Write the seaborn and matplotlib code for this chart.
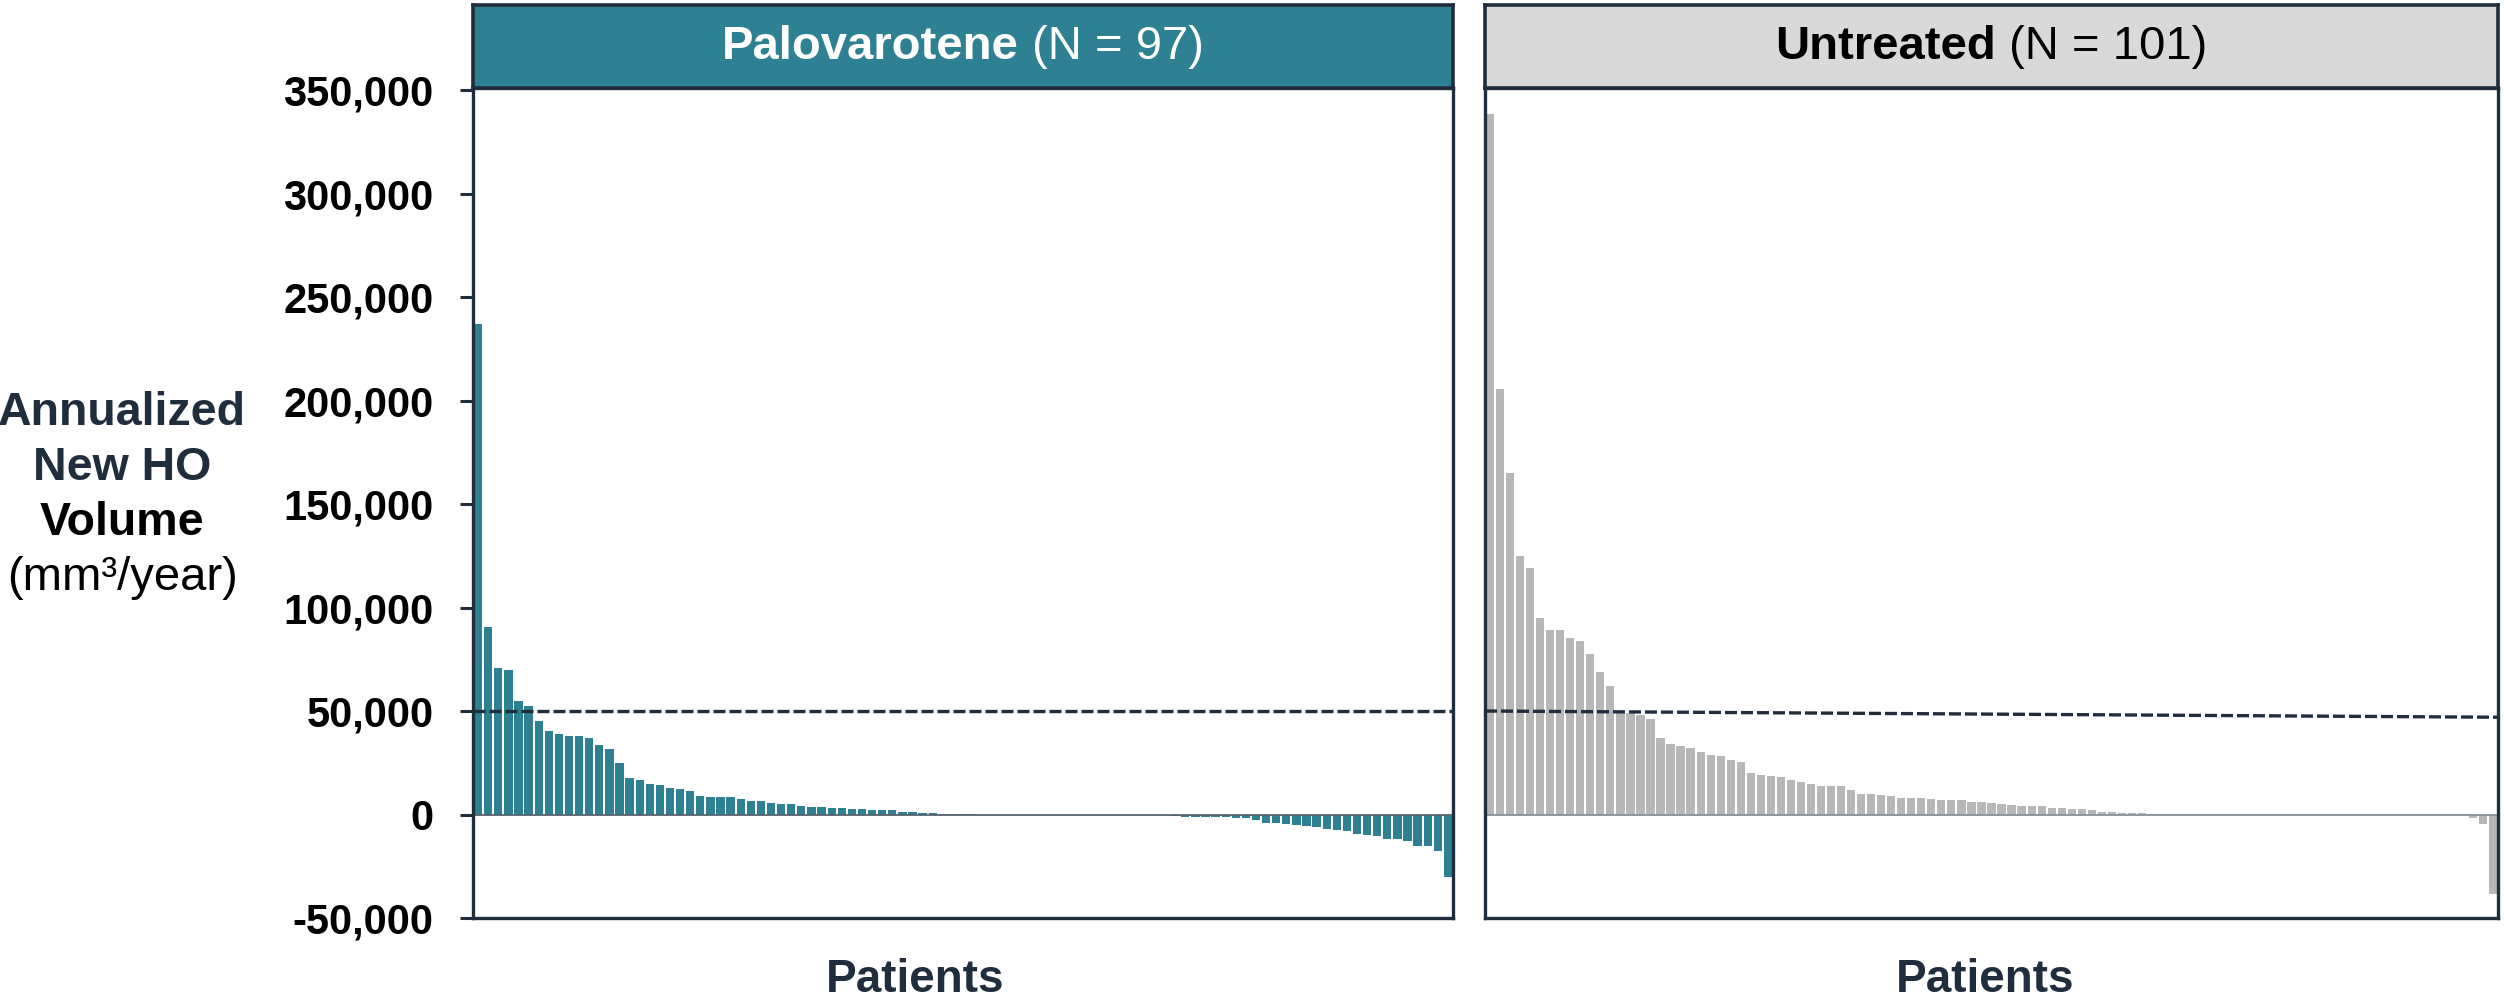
import matplotlib
matplotlib.use("Agg")
import matplotlib.pyplot as plt
import pandas as pd
import seaborn as sns

# Annualized new HO volume per patient (mm^3/year), sorted high to low
palovarotene = [
    237000, 90400, 70700, 69900, 55000, 52300, 45100, 40500, 38900, 38000,
    37800, 37200, 33500, 31800, 25100, 17500, 16700, 14800, 14300, 12700,
    12100, 11300, 8900, 8600, 8600, 8600, 7600, 6700, 6500, 5700,
    4900, 4900, 4300, 3800, 3800, 3200, 3000, 2700, 2700, 2400,
    2300, 2200, 1400, 1300, 900, 500, 350, 300, 300, 250,
    0, 0, 0, 0, 0, 0, 0, 0, 0, 0,
    0, 0, 0, 0, 0, 0, 0, 0, 0,
    -800, -1000, -1100, -1100, -1100, -1300, -1500, -1600, -2600, -3900,
    -3900, -4500, -5000, -5500, -6000, -7200, -7600, -8200, -9200, -10000,
    -10300, -11600, -11600, -12900, -15000, -15400, -17700, -30400,
]
untreated = [
    338400, 205600, 165100, 124700, 119300, 94700, 89300, 89000, 85500, 83600,
    77400, 68800, 62300, 49700, 49100, 48300, 46100, 37200, 34300, 33200,
    32100, 30200, 28600, 28100, 26200, 25400, 20200, 19200, 18600, 18300,
    16500, 15900, 14600, 14000, 14000, 13800, 11900, 10000, 9700, 9200,
    8900, 7800, 7800, 7800, 7300, 7200, 7100, 6900, 6100, 6100,
    5500, 5150, 4500, 4200, 4000, 3900, 3200, 3100, 2900, 2600,
    2250, 1300, 1100, 800, 650, 500, 300,
    150, 150, 150, 150, 150, 150, 150, 150,
    0, 0, 0, 0, 0, 0, 0, 0, 0, 0, 0,
    0, 0, 0, 0, 0, 0, 0, 0, 0, 0, 0,
    -300, -1600, -4400, -38500,
]
# Reference threshold line (start, end) for each panel
threshold_palovarotene = [50000, 50000]
threshold_untreated = [50000, 47000]

panel_titles = [("Palovarotene", " (N = 97)"), ("Untreated", " (N = 101)")]
y_ticks = [-50000, 0, 50000, 100000, 150000, 200000, 250000, 300000, 350000]
y_tick_labels = ["-50,000", "0", "50,000", "100,000", "150,000",
                 "200,000", "250,000", "300,000", "350,000"]
x_label = "Patients"

sns.set_theme(style="white")
plt.rcParams["font.family"] = ["Liberation Sans", "DejaVu Sans"]

NAVY = "#1f2d3d"
TEAL = "#2e8093"
GRAY_BAR = "#b7b7b7"
GRAY_HEAD = "#d9d9d9"

W, H = 2504, 1005
fig = plt.figure(figsize=(W / 100, H / 100), dpi=100)

ax_bottom = 1 - 918 / H
ax_top = 1 - 88 / H
head_top = 1 - 5 / H
panels = [
    dict(left=473, right=1453, data=palovarotene, color=TEAL,
         head=TEAL, text_color="white", thr=threshold_palovarotene,
         zero="#56636e", xlab=915),
    dict(left=1485, right=2498, data=untreated, color=GRAY_BAR,
         head=GRAY_HEAD, text_color="black", thr=threshold_untreated,
         zero="#87919a", xlab=1985),
]

renderer = fig.canvas.get_renderer()


def two_part_text(xc, yc, bold, regular, color, size):
    t1 = fig.text(0, yc, bold, fontweight="bold", color=color, fontsize=size,
                  ha="left", va="center")
    t2 = fig.text(0, yc, regular, color=color, fontsize=size,
                  ha="left", va="center")
    w1 = t1.get_window_extent(renderer).width
    w2 = t2.get_window_extent(renderer).width
    x0 = xc * W - (w1 + w2) / 2
    t1.set_x(x0 / W)
    t2.set_x((x0 + w1) / W)


for i, p in enumerate(panels):
    ax = fig.add_axes([p["left"] / W, ax_bottom,
                       (p["right"] - p["left"]) / W, ax_top - ax_bottom])
    n = len(p["data"])
    df = pd.DataFrame({"patient": list(range(n)), "volume": p["data"]})
    sns.barplot(data=df, x="patient", y="volume", color=p["color"],
                saturation=1, width=0.82, errorbar=None, ax=ax,
                linewidth=0, zorder=2)
    ax.axhline(0, color=p["zero"], lw=1.3, zorder=2.5)
    ax.plot([-0.5, n - 0.5], p["thr"], color=NAVY, lw=2.4,
            ls=(0, (3.6, 1.2)), zorder=3)
    ax.set_xlim(-0.5, n - 0.5)
    ax.set_ylim(-50000, 351000)
    ax.set_xticks([])
    ax.set_xlabel("")
    ax.set_ylabel("")
    for sp in ax.spines.values():
        sp.set_visible(True)
        sp.set_color(NAVY)
        sp.set_linewidth(2.4)
    if i == 0:
        ax.set_yticks(y_ticks)
        ax.set_yticklabels(y_tick_labels, fontweight="bold", color="black")
        ax.tick_params(axis="y", left=True, length=9.5, width=2.2,
                       color=NAVY, pad=19, labelsize=30, direction="out")
    else:
        ax.set_yticks([])

    # Header band
    hax = fig.add_axes([p["left"] / W, ax_top,
                        (p["right"] - p["left"]) / W, head_top - ax_top])
    hax.set_facecolor(p["head"])
    hax.set_xticks([])
    hax.set_yticks([])
    for sp in hax.spines.values():
        sp.set_visible(True)
        sp.set_color(NAVY)
        sp.set_linewidth(2.6)
    bold, regular = panel_titles[i]
    two_part_text((p["left"] + p["right"]) / 2 / W, 1 - 47 / H,
                  bold, regular, p["text_color"], 34)

    fig.text(p["xlab"] / W, 1 - 980 / H, x_label, fontweight="bold",
             color=NAVY, fontsize=33, ha="center", va="center")

# Y-axis title, one line per text run
xc = 122 / W
fig.text(xc, 1 - 413 / H, "Annualized", fontweight="bold", color=NAVY,
         fontsize=33.5, ha="center", va="center")
fig.text(xc, 1 - 468 / H, "New HO", fontweight="bold", color=NAVY,
         fontsize=33.5, ha="center", va="center")
fig.text(xc, 1 - 523 / H, "Volume", fontweight="bold", color="black",
         fontsize=33.5, ha="center", va="center")
fig.text(xc, 1 - 578 / H, "(mm³/year)", color="black",
         fontsize=34, ha="center", va="center")

fig.savefig("out.png", dpi=100)
